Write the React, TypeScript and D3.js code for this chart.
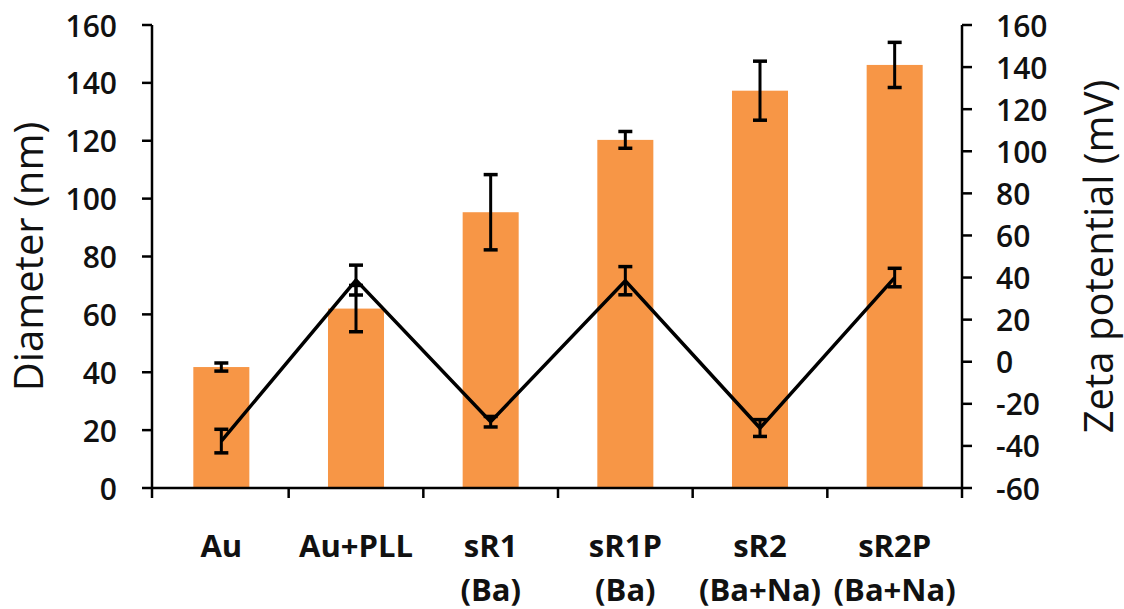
import React from "react";
import * as d3 from "d3";

const categories = ["Au", "Au+PLL", "sR1", "sR1P", "sR2", "sR2P"];
const subLabels = ["", "", "(Ba)", "(Ba)", "(Ba+Na)", "(Ba+Na)"];
const diameter = [41.8, 62, 95.3, 120.3, 137.3, 146.2];
const diameterErr = [1.4, 8, 13, 2.9, 10.2, 7.8];
const zeta = [-37.7, 38.8, -28.5, 38.5, -31.5, 40];
const zetaErr = [5.6, 7.1, 2.5, 6.7, 4, 4.4];
const leftTicks = [0, 20, 40, 60, 80, 100, 120, 140, 160];
const rightTicks = [-60, -40, -20, 0, 20, 40, 60, 80, 100, 120, 140, 160];

const W = 1124;
const H = 609;
const TOP = 25;
const BOTTOM = 488;
const LEFT = 152;
const RIGHT = 962;
const FONT = "'Open Sans', sans-serif";

export default function App() {
  const x = d3.scaleBand<string>().domain(categories).range([154, RIGHT]).paddingInner(0.584).paddingOuter(0.292);
  const xb = d3.scaleBand<string>().domain(categories).range([154, RIGHT]);
  const yL = d3.scaleLinear().domain([0, 160]).range([BOTTOM, TOP]);
  const yR = d3.scaleLinear().domain([-60, 160]).range([BOTTOM, TOP]);
  const cx = (c: string) => (xb(c) as number) + xb.bandwidth() / 2;

  const line = d3
    .line<number>()
    .x((_, i) => cx(categories[i]))
    .y((d) => yR(d));

  const boundaries = categories.map((c) => xb(c) as number).concat([RIGHT]);
  const cap = 7;

  return (
    <svg width={W} height={H} style={{ position: "absolute", left: 0, top: 0, background: "#fff" }}>
      <rect x={0} y={0} width={W} height={H} fill="#fff" />
      {/* bars */}
      {categories.map((c, i) => (
        <rect key={c} x={x(c)} y={yL(diameter[i])} width={x.bandwidth()} height={BOTTOM - yL(diameter[i])} fill="#F79646" />
      ))}
      {/* diameter error bars */}
      {categories.map((c, i) => {
        const xc = cx(c);
        const y1 = yL(diameter[i] + diameterErr[i]);
        const y2 = yL(diameter[i] - diameterErr[i]);
        return (
          <g key={"de" + c} stroke="#000" strokeWidth={3}>
            <line x1={xc} x2={xc} y1={y1} y2={y2} />
            <line x1={xc - cap} x2={xc + cap} y1={y1} y2={y1} strokeWidth={3.5} />
            <line x1={xc - cap} x2={xc + cap} y1={y2} y2={y2} strokeWidth={3.5} />
          </g>
        );
      })}
      {/* zeta line */}
      <path d={line(zeta) || ""} fill="none" stroke="#000" strokeWidth={3.5} strokeLinejoin="miter" />
      {categories.map((c, i) => {
        const xc = cx(c);
        const y1 = yR(zeta[i] + zetaErr[i]);
        const y2 = yR(zeta[i] - zetaErr[i]);
        return (
          <g key={"ze" + c} stroke="#000" strokeWidth={3}>
            <line x1={xc} x2={xc} y1={y1} y2={y2} />
            <line x1={xc - cap} x2={xc + cap} y1={y1} y2={y1} strokeWidth={3.5} />
            <line x1={xc - cap} x2={xc + cap} y1={y2} y2={y2} strokeWidth={3.5} />
          </g>
        );
      })}
      {/* axes */}
      <g stroke="#000" strokeWidth={2.5}>
        <line x1={LEFT} x2={LEFT} y1={TOP} y2={BOTTOM + 1} />
        <line x1={RIGHT} x2={RIGHT} y1={TOP} y2={BOTTOM + 1} />
        <line x1={LEFT} x2={RIGHT} y1={BOTTOM} y2={BOTTOM} />
        {leftTicks.map((t) => (
          <line key={"lt" + t} x1={LEFT - 10} x2={LEFT} y1={yL(t)} y2={yL(t)} />
        ))}
        {rightTicks.map((t) => (
          <line key={"rt" + t} x1={RIGHT} x2={RIGHT + 10} y1={yR(t)} y2={yR(t)} />
        ))}
        {boundaries.map((b, i) => (
          <line key={"xt" + i} x1={i === 0 ? LEFT : b} x2={i === 0 ? LEFT : b} y1={BOTTOM} y2={BOTTOM + 10} />
        ))}
      </g>
      <g fontFamily={FONT} fontSize={30} fontWeight={600} fill="#111">
        {leftTicks.map((t) => (
          <text key={"ll" + t} x={117} y={yL(t)} textAnchor="end" dominantBaseline="central">
            {t}
          </text>
        ))}
        {rightTicks.map((t) => (
          <text key={"rl" + t} x={996} y={yR(t)} textAnchor="start" dominantBaseline="central">
            {t}
          </text>
        ))}
      </g>
      <g fontFamily={FONT} fontSize={31} fontWeight={700} fill="#111" textAnchor="middle">
        {categories.map((c, i) => (
          <g key={"cl" + c}>
            <text x={cx(c)} y={557}>{c}</text>
            {subLabels[i] && <text x={cx(c)} y={601}>{subLabels[i]}</text>}
          </g>
        ))}
      </g>
      <g fontFamily={FONT} fontSize={40} fontWeight={400} fill="#111" textAnchor="middle">
        <text transform={`translate(43, ${(TOP + BOTTOM) / 2}) rotate(-90)`}>Diameter (nm)</text>
        <text transform={`translate(1113, ${(TOP + BOTTOM) / 2}) rotate(-90)`}>Zeta potential (mV)</text>
      </g>
    </svg>
  );
}
